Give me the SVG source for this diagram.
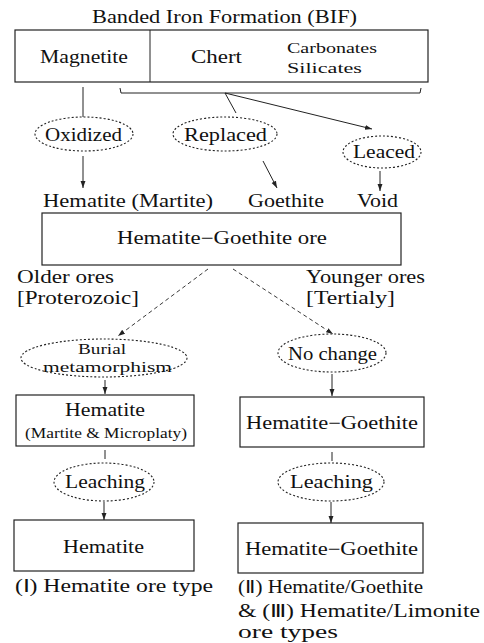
<svg xmlns="http://www.w3.org/2000/svg" width="484" height="643" viewBox="0 0 484 643">
<style>
text{font-family:"Liberation Serif","Times New Roman",serif;fill:#111;font-size:18px}
.s{font-size:15.5px}
.box{fill:none;stroke:#222;stroke-width:1.2}
.ell{fill:none;stroke:#222;stroke-width:1.1;stroke-dasharray:2 2}
.ln{fill:none;stroke:#222;stroke-width:1}
.dash{fill:none;stroke:#222;stroke-width:0.9;stroke-dasharray:4 3}
</style>
<defs>
<marker id="ah" viewBox="0 0 10 10" refX="10" refY="5" markerWidth="7" markerHeight="7" markerUnits="userSpaceOnUse" orient="auto">
<path d="M0,1.5 L10,5 L0,8.5 Z" fill="#222"/>
</marker>
</defs>
<text x="92" y="23" textLength="265" lengthAdjust="spacingAndGlyphs">Banded Iron Formation (BIF)</text>
<g id="bif">
<rect class="box" x="15" y="30" width="413" height="52"/>
<line class="ln" x1="150" y1="30" x2="150" y2="82"/>
<text x="40" y="63" textLength="88" lengthAdjust="spacingAndGlyphs">Magnetite</text>
<text x="191" y="63" textLength="51" lengthAdjust="spacingAndGlyphs">Chert</text>
<text class="s" x="287" y="53" textLength="90" lengthAdjust="spacingAndGlyphs">Carbonates</text>
<text class="s" x="287" y="73" textLength="75" lengthAdjust="spacingAndGlyphs">Silicates</text>
</g>
<g id="connectors">
<path class="ln" d="M120,88 L121,93 L420,93 L421,88"/>
<line class="ln" x1="83" y1="87" x2="83" y2="117"/>
<line class="ln" x1="225" y1="93" x2="236" y2="113"/>
<line class="ln" x1="225" y1="93" x2="372" y2="129" marker-end="url(#ah)"/>
<line class="ln" x1="83" y1="156" x2="83" y2="188" marker-end="url(#ah)"/>
<line class="ln" x1="263" y1="161" x2="277" y2="188" marker-end="url(#ah)"/>
<line class="ln" x1="380" y1="171" x2="380" y2="191" marker-end="url(#ah)"/>
<line class="dash" x1="208" y1="269" x2="118" y2="336" marker-end="url(#ah)"/>
<line class="dash" x1="233" y1="269" x2="333" y2="334" marker-end="url(#ah)"/>
<line class="ln" x1="105" y1="380" x2="105" y2="394" marker-end="url(#ah)"/>
<line class="ln" x1="332" y1="374" x2="332" y2="396" marker-end="url(#ah)"/>
<line class="ln" x1="105" y1="450" x2="105" y2="459"/>
<line class="ln" x1="104" y1="502" x2="104" y2="520" marker-end="url(#ah)"/>
<line class="ln" x1="332" y1="452" x2="332" y2="461"/>
<line class="ln" x1="331" y1="502" x2="331" y2="523" marker-end="url(#ah)"/>
</g>
<g id="oxidized">
<ellipse class="ell" cx="84" cy="134" rx="49" ry="17"/>
<text x="45" y="141" textLength="77" lengthAdjust="spacingAndGlyphs">Oxidized</text>
</g>
<g id="replaced">
<ellipse class="ell" cx="225" cy="134" rx="52" ry="17"/>
<text x="184" y="141" textLength="83" lengthAdjust="spacingAndGlyphs">Replaced</text>
</g>
<g id="leaced">
<ellipse class="ell" cx="382" cy="152" rx="39" ry="16"/>
<text x="353" y="158" textLength="62" lengthAdjust="spacingAndGlyphs">Leaced</text>
</g>
<text x="43" y="207" textLength="170" lengthAdjust="spacingAndGlyphs">Hematite (Martite)</text>
<text x="248" y="207" textLength="76" lengthAdjust="spacingAndGlyphs">Goethite</text>
<text x="357" y="207" textLength="41" lengthAdjust="spacingAndGlyphs">Void</text>
<g id="hg-ore">
<rect class="box" x="42" y="213" width="359" height="52"/>
<text x="117" y="244" textLength="210" lengthAdjust="spacingAndGlyphs">Hematite−Goethite ore</text>
</g>
<text x="17" y="283" textLength="97" lengthAdjust="spacingAndGlyphs">Older ores</text>
<text x="17" y="304" textLength="122" lengthAdjust="spacingAndGlyphs">[Proterozoic]</text>
<text x="306" y="283" textLength="119" lengthAdjust="spacingAndGlyphs">Younger ores</text>
<text x="306" y="304" textLength="89" lengthAdjust="spacingAndGlyphs">[Tertialy]</text>
<g id="burial">
<ellipse class="ell" cx="104" cy="358" rx="83" ry="19"/>
<text class="s" x="78" y="354" textLength="48" lengthAdjust="spacingAndGlyphs">Burial</text>
<text class="s" x="43" y="372" textLength="129" lengthAdjust="spacingAndGlyphs">metamorphism</text>
</g>
<g id="nochange">
<ellipse class="ell" cx="332" cy="353" rx="54" ry="19"/>
<text x="288" y="360" textLength="89" lengthAdjust="spacingAndGlyphs">No change</text>
</g>
<g id="hematite-mm">
<rect class="box" x="16" y="395" width="178" height="51"/>
<text x="65" y="416" textLength="80" lengthAdjust="spacingAndGlyphs">Hematite</text>
<text class="s" x="25" y="438" textLength="162" lengthAdjust="spacingAndGlyphs">(Martite &amp; Microplaty)</text>
</g>
<g id="hg1">
<rect class="box" x="240" y="397" width="184" height="50"/>
<text x="246" y="429" textLength="172" lengthAdjust="spacingAndGlyphs">Hematite−Goethite</text>
</g>
<g id="leaching1">
<ellipse class="ell" cx="104" cy="482" rx="50" ry="19"/>
<text x="65" y="488" textLength="80" lengthAdjust="spacingAndGlyphs">Leaching</text>
</g>
<g id="leaching2">
<ellipse class="ell" cx="331" cy="482" rx="53" ry="19"/>
<text x="290" y="488" textLength="83" lengthAdjust="spacingAndGlyphs">Leaching</text>
</g>
<g id="hematite">
<rect class="box" x="14" y="520" width="180" height="51"/>
<text x="63" y="553" textLength="81" lengthAdjust="spacingAndGlyphs">Hematite</text>
</g>
<g id="hg2">
<rect class="box" x="238" y="523" width="185" height="50"/>
<text x="245" y="555" textLength="173" lengthAdjust="spacingAndGlyphs">Hematite−Goethite</text>
</g>
<text x="15" y="592" textLength="198" lengthAdjust="spacingAndGlyphs">(Ⅰ) Hematite ore type</text>
<text x="238" y="593" textLength="185" lengthAdjust="spacingAndGlyphs">(Ⅱ) Hematite/Goethite</text>
<text x="238" y="617" textLength="242" lengthAdjust="spacingAndGlyphs">&amp; (Ⅲ) Hematite/Limonite</text>
<text x="238" y="638" textLength="100" lengthAdjust="spacingAndGlyphs">ore types</text>
</svg>
